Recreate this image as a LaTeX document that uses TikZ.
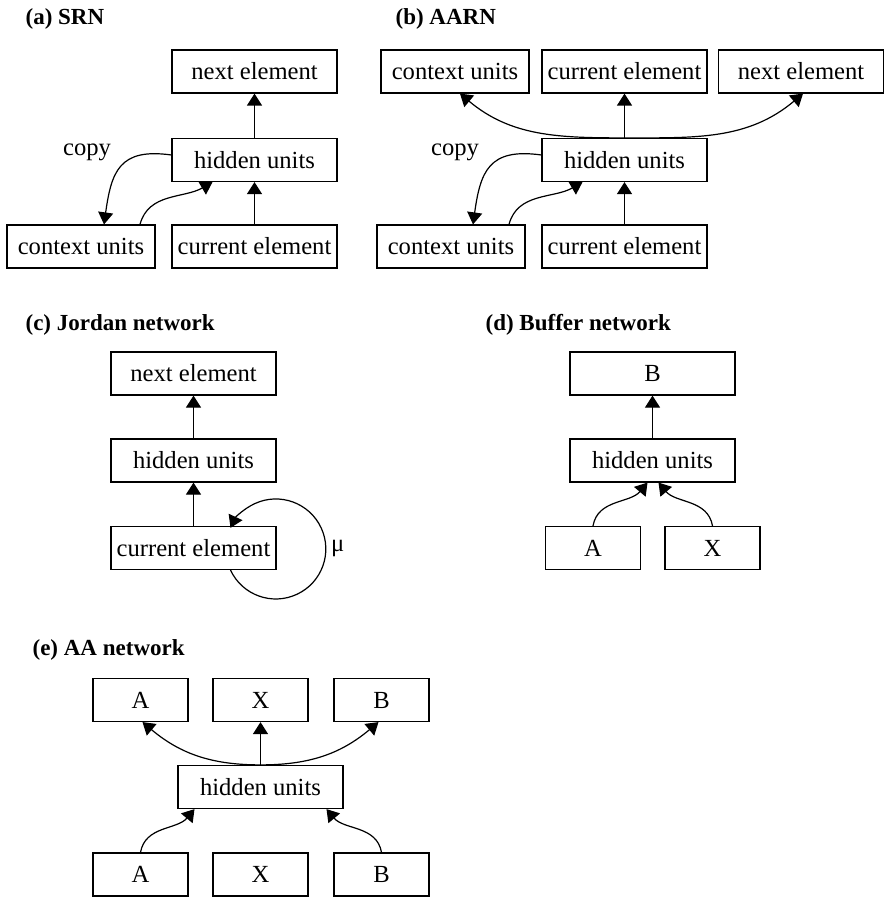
\documentclass[tikz,border=0pt]{standalone}
\usepackage{fontspec}
\setmainfont{Liberation Serif}
\usetikzlibrary{positioning, calc, arrows.meta}

\tikzset{
	unit/.style={draw, rectangle, minimum height=21.5pt, inner sep=0pt, font=\fontsize{12.3}{14}\selectfont},
	long/.style={unit, minimum width=82.5pt},
	ctx/.style={unit, minimum width=74pt},
	short/.style={unit, minimum width=47.5pt},
	title/.style={anchor=base west, inner sep=0pt, font=\fontsize{11.5}{14}\selectfont\bfseries},
	lbl/.style={inner sep=1pt, font=\fontsize{12.3}{14}\selectfont}
}

\begin{document}
\begin{tikzpicture}[x=0.5pt, y=-0.5pt, line width=0.6pt, >={Triangle[width=7.5pt,length=6pt]}]
	\useasboundingbox (0,0) rectangle (886,897);

	% (a) SRN
	\node[title] (tA) at (25,25) {(a) SRN};
	\node[long] (aNext) at (254.5,71.5) {next element};
	\node[long] (aHid) at (254.5,160) {hidden units};
	\node[ctx] (aCtx) at (81,246.5) {context units};
	\node[long] (aCur) at (254.5,246.5) {current element};
	\node[lbl] (aCopy) at (87,152) {copy};

	\path[->]
	    (aHid) edge (aNext)
	    (aCur) edge (aHid)
	    ([yshift=2.5pt]aHid.west) edge [out=172, in=82, looseness=1.4] ([xshift=11.5pt]aCtx.north)
	    ([xshift=29.5pt]aCtx.north) edge [out=75, in=210] ([xshift=-21pt]aHid.south);

	% (b) AARN
	\node[title] (tB) at (395,25) {(b) AARN};
	\node[ctx] (bCtxT) at (455,71.5) {context units};
	\node[long] (bCurT) at (624.5,71.5) {current element};
	\node[long] (bNextT) at (801,71.5) {next element};
	\node[long] (bHid) at (624.5,160) {hidden units};
	\node[ctx] (bCtx) at (451,246.5) {context units};
	\node[long] (bCur) at (624.5,246.5) {current element};
	\node[lbl] (bCopy) at (455,152) {copy};

	\path[->]
	    (bHid) edge (bCurT)
	    (bHid.north) edge [out=180, in=-40] ([xshift=2.5pt]bCtxT.south)
	    (bHid.north) edge [out=0, in=220] ([xshift=1pt]bNextT.south)
	    (bCur) edge (bHid)
	    ([yshift=2.5pt]bHid.west) edge [out=172, in=82, looseness=1.4] ([xshift=11pt]bCtx.north)
	    ([xshift=29pt]bCtx.north) edge [out=75, in=210] ([xshift=-21pt]bHid.south);

	% (c) Jordan network
	\node[title] (tC) at (25,330) {(c) Jordan network};
	\node[long] (cNext) at (193.5,373.5) {next element};
	\node[long] (cHid) at (193.5,460.5) {hidden units};
	\node[long] (cCur) at (193.5,548) {current element};
	\node[lbl, anchor=west] (cMu) at ([xshift=26pt]cCur.east) {μ};

	\path[->]
	    (cHid) edge (cNext)
	    (cCur) edge (cHid);
	\draw[->] ([xshift=18.5pt]cCur.south) arc[start angle=205, end angle=515, radius=25pt];

	% (d) Buffer network
	\node[title] (tD) at (485,331) {(d) Buffer network};
	\node[long] (dB) at (652.5,373.5) {B};
	\node[long] (dHid) at (652.5,460.5) {hidden units};
	\node[short] (dA) at (593,548) {A};
	\node[short] (dX) at (712.5,548) {X};

	\path[->]
	    (dHid) edge (dB)
	    (dA.north) edge [out=80, in=230] ([xshift=-2.5pt]dHid.south)
	    (dX.north) edge [out=100, in=-50] ([xshift=3pt]dHid.south);

	% (e) AA network
	\node[title] (tE) at (32,655) {(e) AA network};
	\node[short] (eAT) at (140.5,700) {A};
	\node[short] (eXT) at (260.5,700) {X};
	\node[short] (eBT) at (381.5,700) {B};
	\node[long] (eHid) at (260.5,787) {hidden units};
	\node[short] (eA) at (140.5,874.5) {A};
	\node[short] (eX) at (260.5,874.5) {X};
	\node[short] (eB) at (381.5,874.5) {B};

	\path[->]
	    (eHid) edge (eXT)
	    (eHid.north) edge [out=180, in=-40] ([xshift=1pt]eAT.south)
	    (eHid.north) edge [out=0, in=220] ([xshift=-1.5pt]eBT.south)
	    (eA.north) edge [out=80, in=230] ([xshift=-33pt]eHid.south)
	    (eB.north) edge [out=100, in=-50] ([xshift=33pt]eHid.south);
\end{tikzpicture}
\end{document}
